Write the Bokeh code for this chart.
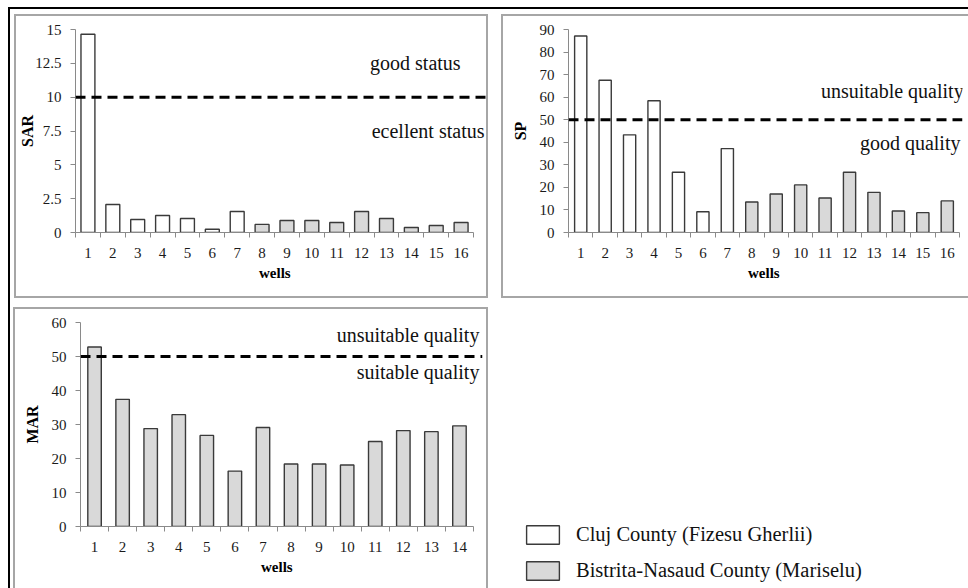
from bokeh.plotting import figure
from bokeh.models import (Range1d, FixedTicker, Span, Label, Legend, LegendItem,
                          ColumnDataSource, Title)
from bokeh.layouts import row, column
from bokeh.transform import factor_cmap
from bokeh.embed import file_html
from bokeh.resources import INLINE

# ---------------- data ----------------
county_keys = ["Cluj", "Bistrita"]
county_names = ["Cluj County (Fizesu Gherlii)", "Bistrita-Nasaud County (Mariselu)"]
county_colors = ["#ffffff", "#d9d9d9"]

sar_wells = [1, 2, 3, 4, 5, 6, 7, 8, 9, 10, 11, 12, 13, 14, 15, 16]
sar_values = [14.65, 2.07, 0.96, 1.26, 1.03, 0.24, 1.55, 0.60, 0.89, 0.89, 0.74, 1.55, 1.03, 0.37, 0.52, 0.74]
sar_county = ["Cluj", "Cluj", "Cluj", "Cluj", "Cluj", "Cluj", "Cluj",
              "Bistrita", "Bistrita", "Bistrita", "Bistrita", "Bistrita",
              "Bistrita", "Bistrita", "Bistrita", "Bistrita"]
sar_ticks = [0, 2.5, 5, 7.5, 10, 12.5, 15]
sar_tick_labels = ["0", "2.5", "5", "7.5", "10", "12.5", "15"]
sar_limit = 10
sar_notes = ["good status", "ecellent status"]

sp_wells = [1, 2, 3, 4, 5, 6, 7, 8, 9, 10, 11, 12, 13, 14, 15, 16]
sp_values = [87.1, 67.5, 43.3, 58.4, 26.7, 9.2, 37.2, 13.5, 17.1, 21.1, 15.3, 26.7, 17.8, 9.5, 8.8, 14.0]
sp_county = ["Cluj", "Cluj", "Cluj", "Cluj", "Cluj", "Cluj", "Cluj",
             "Bistrita", "Bistrita", "Bistrita", "Bistrita", "Bistrita",
             "Bistrita", "Bistrita", "Bistrita", "Bistrita"]
sp_ticks = [0, 10, 20, 30, 40, 50, 60, 70, 80, 90]
sp_tick_labels = ["0", "10", "20", "30", "40", "50", "60", "70", "80", "90"]
sp_limit = 50
sp_notes = ["unsuitable quality", "good quality"]

mar_wells = [1, 2, 3, 4, 5, 6, 7, 8, 9, 10, 11, 12, 13, 14]
mar_values = [52.8, 37.4, 28.8, 32.9, 26.8, 16.3, 29.1, 18.4, 18.4, 18.1, 25.0, 28.2, 27.9, 29.6]
mar_county = ["Bistrita", "Bistrita", "Bistrita", "Bistrita", "Bistrita", "Bistrita", "Bistrita",
              "Bistrita", "Bistrita", "Bistrita", "Bistrita", "Bistrita", "Bistrita", "Bistrita"]
mar_ticks = [0, 10, 20, 30, 40, 50, 60]
mar_tick_labels = ["0", "10", "20", "30", "40", "50", "60"]
mar_limit = 50
mar_notes = ["unsuitable quality", "suitable quality"]

FONT = "Liberation Serif"
AXIS_GRAY = "#8a8a8a"
BOX_GRAY = "#a6a6a6"
BAR_LINE = "#3a3a3a"


def make_panel(wells, values, county, ylabel, yticks, ytick_labels, limit, notes, note_pos,
               bar_width, canvas_w, canvas_h, frame_left, frame_top, frame_bottom,
               frame_right_gap, axis_end, ylabel_standoff):
    n = len(wells)
    px_per_well = (axis_end - frame_left) / n
    x_start = wells[0] - 0.5
    x_end = x_start + (canvas_w - frame_right_gap - frame_left) / px_per_well
    p = figure(width=canvas_w, height=canvas_h, output_backend="svg", toolbar_location=None,
               x_range=Range1d(x_start, x_end), y_range=Range1d(yticks[0], yticks[-1]),
               min_border_left=frame_left, min_border_right=frame_right_gap,
               min_border_top=frame_top, min_border_bottom=canvas_h - frame_bottom,
               outline_line_color=None)
    p.grid.visible = False
    src = ColumnDataSource(dict(well=wells, value=values, county=county))
    p.vbar(x="well", top="value", width=bar_width, source=src,
           fill_color=factor_cmap("county", county_colors, county_keys),
           line_color=BAR_LINE, line_width=1.4)
    p.add_layout(Span(location=limit, dimension="width", line_color="black",
                      line_width=3, line_dash="10 6"))

    xa = p.xaxis[0]
    xa.ticker = FixedTicker(ticks=wells,
                            minor_ticks=[w - 0.5 for w in wells] + [wells[-1] + 0.5])
    xa.bounds = (wells[0] - 0.5, wells[-1] + 0.5)
    xa.major_tick_out = 0
    xa.major_tick_in = 0
    xa.minor_tick_out = 5
    xa.minor_tick_in = 0
    xa.major_label_standoff = 10

    ya = p.yaxis[0]
    ya.ticker = FixedTicker(ticks=yticks)
    ya.major_label_overrides = {t: s for t, s in zip(yticks, ytick_labels)}
    ya.major_tick_out = 5
    ya.major_tick_in = 0
    ya.minor_tick_out = 0
    ya.minor_tick_in = 0
    ya.major_label_standoff = 9
    ya.axis_label = ylabel
    ya.axis_label_standoff = ylabel_standoff
    ya.axis_label_text_font = FONT
    ya.axis_label_text_font_style = "bold"
    ya.axis_label_text_font_size = "16px"
    ya.axis_label_text_color = "black"

    for ax in (xa, ya):
        ax.axis_line_color = AXIS_GRAY
        ax.major_tick_line_color = AXIS_GRAY
        ax.minor_tick_line_color = AXIS_GRAY
        ax.major_label_text_font = FONT
        ax.major_label_text_font_size = "15px"
        ax.major_label_text_color = "#1a1a1a"

    # x-axis title "wells", centred under the axis line (not the wider frame)
    p.add_layout(Title(text="wells", align="left", offset=(axis_end - frame_left) / 2 - 16,
                       standoff=4, text_font=FONT, text_font_style="bold",
                       text_font_size="15px", text_color="black"), "below")
    for txt, (nx, ny) in zip(notes, note_pos):
        p.add_layout(Label(x=nx, y=ny, text=txt, text_align="right", text_baseline="middle",
                           text_font=FONT, text_font_size="20px", text_color="#111111"))
    return p


def boxed(p, sides, margin):
    st = {"box-sizing": "content-box"}
    for s in sides:
        st["border-" + s] = "2px solid " + BOX_GRAY
    w = column(p)
    w.styles = st
    w.margin = margin
    return w


p1 = make_panel(sar_wells, sar_values, sar_county, "SAR", sar_ticks, sar_tick_labels,
                sar_limit, sar_notes, [(15.98, 12.5), (16.94, 7.5)], 0.56,
                470, 280, 58, 13, 216, 0, 457, -4)
p2 = make_panel(sp_wells, sp_values, sp_county, "SP", sp_ticks, sp_tick_labels,
                sp_limit, sp_notes, [(16.67, 62.7), (16.54, 39.6)], 0.5,
                465, 280, 65, 13, 216, 6, 456, 8)
p3 = make_panel(mar_wells, mar_values, mar_county, "MAR", mar_ticks, mar_tick_labels,
                mar_limit, mar_notes, [(14.71, 56.3), (14.71, 45.5)], 0.48,
                471, 279, 65, 13, 217, 4, 458, 8)

w1 = boxed(p1, ["top", "left", "right", "bottom"], (5, 0, 0, 4))
w2 = boxed(p2, ["top", "left", "bottom"], (5, 0, 0, 13))
w3 = boxed(p3, ["top", "left", "right"], (9, 0, 0, 3))

# legend panel
pl = figure(width=480, height=281, output_backend="svg", toolbar_location=None,
            x_axis_location=None, y_axis_location=None, min_border=0,
            outline_line_color=None, x_range=Range1d(0, 1), y_range=Range1d(0, 1))
pl.grid.visible = False
items = []
for key, name, col in zip(county_keys, county_names, county_colors):
    r = pl.vbar(x=[0.5], top=[1], width=0.5, fill_color=col, line_color=BAR_LINE,
                line_width=1.4, visible=False)
    items.append(LegendItem(label=name, renderers=[r]))
leg = Legend(items=items, location=(34, 6), border_line_color=None, background_fill_alpha=0,
             padding=0, margin=0, spacing=13, glyph_width=41, glyph_height=23,
             label_standoff=13, label_text_font=FONT, label_text_font_size="20.5px",
             label_text_color="#111111", inactive_fill_alpha=0, click_policy="none")
pl.add_layout(leg)
pl.margin = (9, 0, 0, 0)

root = column(row(w1, w2), row(w3, pl))
root.margin = (7, 0, 0, 8)
root.styles = {"box-sizing": "content-box", "border-top": "2px solid black",
               "border-left": "2px solid black"}

open("out.html", "w").write(file_html(root, INLINE))
